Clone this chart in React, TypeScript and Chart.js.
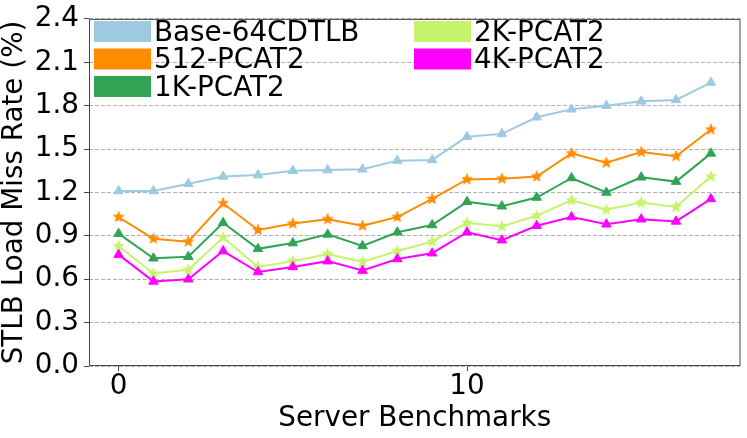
import React, { useEffect, useRef } from "react";
import { Chart, registerables } from "chart.js";

Chart.register(...registerables);

const benchmarks = [0, 1, 2, 3, 4, 5, 6, 7, 8, 9, 10, 11, 12, 13, 14, 15, 16, 17];
const xTickValues = [0, 10];
const yTickValues = [0, 0.3, 0.6, 0.9, 1.2, 1.5, 1.8, 2.1, 2.4];

const seriesNames = ["Base-64CDTLB", "512-PCAT2", "1K-PCAT2", "2K-PCAT2", "4K-PCAT2"];
const base64 = [1.21, 1.21, 1.26, 1.31, 1.32, 1.35, 1.355, 1.36, 1.42, 1.425, 1.585, 1.605, 1.72, 1.775, 1.8, 1.83, 1.84, 1.96];
const pcat512 = [1.03, 0.88, 0.86, 1.125, 0.94, 0.985, 1.015, 0.97, 1.03, 1.155, 1.29, 1.295, 1.31, 1.47, 1.405, 1.48, 1.45, 1.635];
const pcat1k = [0.915, 0.745, 0.755, 0.99, 0.81, 0.85, 0.91, 0.83, 0.925, 0.975, 1.135, 1.105, 1.165, 1.3, 1.2, 1.305, 1.275, 1.47];
const pcat2k = [0.83, 0.64, 0.665, 0.89, 0.685, 0.725, 0.775, 0.72, 0.795, 0.86, 0.99, 0.965, 1.04, 1.145, 1.08, 1.13, 1.1, 1.31];
const pcat4k = [0.77, 0.585, 0.6, 0.795, 0.65, 0.685, 0.725, 0.66, 0.74, 0.78, 0.925, 0.87, 0.97, 1.03, 0.98, 1.015, 1.0, 1.155];

const seriesValues = [base64, pcat512, pcat1k, pcat2k, pcat4k];
const seriesColors = ["#9ecae1", "#ff8c00", "#31a354", "#c6f36c", "#ff00ff"];
const seriesMarkers = ["triangle", "star", "triangle", "star", "triangle"];

const FONT = "DejaVu Sans";
const FS = 27.8;

function makeStar(color: string, r: number): HTMLCanvasElement {
  const size = Math.ceil(2 * r + 3);
  const c = document.createElement("canvas");
  c.width = size;
  c.height = size;
  const ctx = c.getContext("2d")!;
  const cx = size / 2;
  const cy = size / 2;
  const inner = r * 0.42;
  ctx.beginPath();
  for (let i = 0; i < 10; i++) {
    const rad = i % 2 === 0 ? r : inner;
    const a = -Math.PI / 2 + (i * Math.PI) / 5;
    const px = cx + Math.cos(a) * rad;
    const py = cy + Math.sin(a) * rad;
    if (i === 0) ctx.moveTo(px, py);
    else ctx.lineTo(px, py);
  }
  ctx.closePath();
  ctx.fillStyle = color;
  ctx.fill();
  ctx.lineWidth = 1;
  ctx.strokeStyle = color;
  ctx.stroke();
  return c;
}

const framePlugin = {
  id: "frameAndLegend",
  afterDraw(chart: any) {
    const { ctx, chartArea } = chart;
    const { left, top, right, bottom } = chartArea;
    ctx.save();
    ctx.strokeStyle = "#444444";
    ctx.lineWidth = 1;
    ctx.setLineDash([]);
    ctx.beginPath();
    ctx.rect(left + 0.5, top + 0.5, right - left - 1, bottom - top - 1);
    ctx.stroke();

    // legend, two columns, no frame
    const colX = [94, 414];
    const pitch = 27.5;
    ctx.font = `${FS}px "${FONT}"`;
    ctx.textBaseline = "alphabetic";
    ctx.textAlign = "left";
    chart.data.datasets.forEach((ds: any, i: number) => {
      const col = Math.floor(i / 3);
      const row = i % 3;
      const x = colX[col];
      const y = 21 + row * pitch;
      ctx.fillStyle = ds.legendColor;
      ctx.fillRect(x, y, 57, 21);
      ctx.fillStyle = "#000000";
      ctx.fillText(ds.label, x + 60, 40.5 + row * pitch);
    });
    ctx.restore();
  },
};

export default function App() {
  const ref = useRef<HTMLCanvasElement | null>(null);

  useEffect(() => {
    if (!ref.current) return;
    const datasets = seriesNames.map((name, i) => {
      const color = seriesColors[i];
      const isStar = seriesMarkers[i] === "star";
      return {
        label: name,
        legendColor: color,
        data: benchmarks.map((b, j) => ({ x: b, y: seriesValues[i][j] })),
        borderColor: color,
        backgroundColor: color,
        borderWidth: 2,
        pointStyle: isStar ? makeStar(color, 5.5) : "triangle",
        pointRadius: 5.5,
        pointBorderWidth: 1,
        pointBorderColor: color,
        pointBackgroundColor: color,
        tension: 0,
        order: seriesNames.length - i,
      };
    });

    const tickFont = { family: FONT, size: FS, lineHeight: 1 };

    const chart = new Chart(ref.current, {
      type: "line",
      data: { datasets } as any,
      plugins: [framePlugin],
      options: {
        animation: false,
        responsive: false,
        devicePixelRatio: 1,
        layout: { padding: { left: 0, top: 14, right: 1, bottom: 0 } },
        plugins: {
          legend: { display: false },
          tooltip: { enabled: false },
        },
        scales: {
          x: {
            type: "linear",
            min: -0.85,
            max: 17.85,
            afterBuildTicks: (scale: any) => {
              scale.ticks = xTickValues.map((v) => ({ value: v }));
            },
            afterFit: (scale: any) => {
              scale.height = 72;
            },
            ticks: {
              font: tickFont,
              color: "#000000",
              padding: 2,
              maxRotation: 0,
              autoSkip: false,
              callback: (v: any) => String(v),
            },
            grid: {
              drawOnChartArea: false,
              drawTicks: true,
              tickLength: 5,
              tickColor: "#444444",
              tickWidth: 1,
            },
            border: { display: false },
            title: {
              display: true,
              text: "Server Benchmarks",
              color: "#000000",
              font: { family: FONT, size: FS, lineHeight: 1 },
              padding: { top: 0, bottom: 5.7 },
            },
          },
          y: {
            type: "linear",
            min: 0,
            max: 2.4,
            afterBuildTicks: (scale: any) => {
              scale.ticks = yTickValues.map((v) => ({ value: v }));
            },
            afterFit: (scale: any) => {
              scale.width = 89;
            },
            ticks: {
              font: tickFont,
              color: "#000000",
              padding: 5,
              autoSkip: false,
              callback: (v: any) => Number(v).toFixed(1),
            },
            grid: {
              drawOnChartArea: true,
              color: "#b0b0b0",
              lineWidth: 1,
              drawTicks: true,
              tickLength: 5,
              tickColor: "#444444",
              tickWidth: 1,
              tickBorderDash: [],
            },
            border: { display: false, dash: [4, 2] },
            title: {
              display: true,
              text: "STLB Load Miss Rate (%)",
              color: "#000000",
              font: { family: FONT, size: FS, lineHeight: 1 },
              padding: { top: 0.6, bottom: 0 },
            },
          },
        },
      } as any,
    });
    return () => chart.destroy();
  }, []);

  return (
    <div style={{ position: "absolute", left: 0, top: 0, width: 747, height: 438, background: "#ffffff" }}>
      <canvas ref={ref} width={747} height={438} style={{ display: "block" }} />
    </div>
  );
}
